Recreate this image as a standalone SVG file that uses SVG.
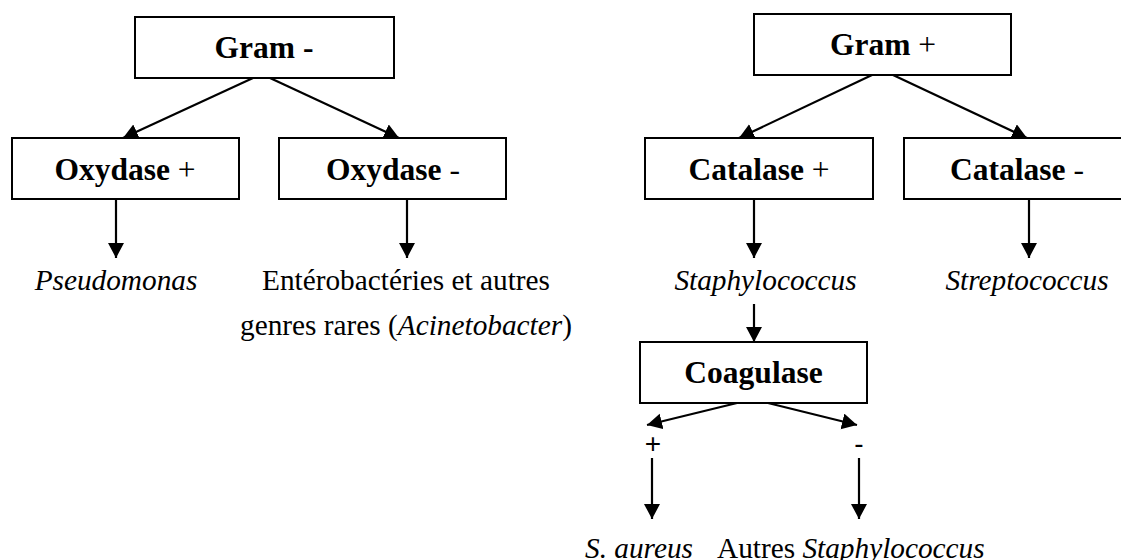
<svg xmlns="http://www.w3.org/2000/svg" width="1121" height="560" viewBox="0 0 1121 560">
<style>
.box{fill:#fff;stroke:#000;stroke-width:2}
.bt{font-family:"Liberation Serif","Times New Roman",serif;font-size:31.5px;font-weight:bold;text-anchor:middle;fill:#000}
.n{font-weight:normal}
.lb{font-family:"Liberation Serif","Times New Roman",serif;font-size:29.3px;fill:#000}
.it{font-style:italic}
.sg{font-family:"Liberation Sans",Arial,sans-serif;font-size:28px;text-anchor:middle;fill:#000}
.c{stroke:#000;stroke-width:2.2;fill:none;marker-end:url(#ah)}
</style>
<defs>
<marker id="ah" markerUnits="userSpaceOnUse" markerWidth="16" markerHeight="17" refX="15" refY="8" orient="auto">
<path d="M0,0 L15,8 L0,16 z" fill="#000"/>
</marker>
</defs>
<g id="connectors">
<line class="c" x1="253" y1="78" x2="123" y2="138"/>
<line class="c" x1="270" y1="78" x2="399" y2="138"/>
<line class="c" x1="116" y1="199" x2="116" y2="258"/>
<line class="c" x1="407" y1="199" x2="407" y2="258"/>
<line class="c" x1="872" y1="75" x2="739" y2="138"/>
<line class="c" x1="893" y1="75" x2="1027" y2="138"/>
<line class="c" x1="754" y1="199" x2="754" y2="258"/>
<line class="c" x1="1029" y1="199" x2="1029" y2="258"/>
<line class="c" x1="754" y1="304" x2="754" y2="342"/>
<line class="c" x1="737" y1="403" x2="647" y2="425"/>
<line class="c" x1="768" y1="403" x2="857" y2="425"/>
<line class="c" x1="652" y1="458" x2="652" y2="519"/>
<line class="c" x1="859" y1="458" x2="859" y2="519"/>
</g>
<g id="gram-neg">
<rect class="box" x="135" y="17" width="259" height="61"/>
<text class="bt" x="264" y="58">Gram -</text>
</g>
<g id="oxydase-pos">
<rect class="box" x="12" y="138" width="227" height="61"/>
<text class="bt" x="125" y="180">Oxydase<tspan class="n"> +</tspan></text>
</g>
<g id="oxydase-neg">
<rect class="box" x="279" y="138" width="227" height="61"/>
<text class="bt" x="393" y="180">Oxydase<tspan class="n"> -</tspan></text>
</g>
<g id="pseudomonas">
<text class="lb it" x="116" y="290" text-anchor="middle">Pseudomonas</text>
</g>
<g id="enterobacteries">
<text class="lb" x="262" y="290">Entérobactéries et autres</text>
<text class="lb" x="240" y="335">genres rares (<tspan class="it">Acinetobacter</tspan>)</text>
</g>
<g id="gram-pos">
<rect class="box" x="754" y="14" width="257" height="61"/>
<text class="bt" x="883" y="55">Gram<tspan class="n"> +</tspan></text>
</g>
<g id="catalase-pos">
<rect class="box" x="645" y="138" width="228" height="61"/>
<text class="bt" x="759" y="180">Catalase<tspan class="n"> +</tspan></text>
</g>
<g id="catalase-neg">
<rect class="box" x="904" y="138" width="240" height="61"/>
<text class="bt" x="1017" y="180">Catalase<tspan class="n"> -</tspan></text>
</g>
<g id="staphylococcus">
<text class="lb it" x="765.5" y="290" text-anchor="middle">Staphylococcus</text>
</g>
<g id="streptococcus">
<text class="lb it" x="1027" y="290" text-anchor="middle">Streptococcus</text>
</g>
<g id="coagulase">
<rect class="box" x="640" y="342" width="227" height="61"/>
<text class="bt" x="753.5" y="383">Coagulase</text>
</g>
<g id="signs">
<text class="sg" x="653" y="453">+</text>
<text class="sg" x="859" y="453">-</text>
</g>
<g id="s-aureus">
<text class="lb it" x="585" y="558">S. aureus</text>
</g>
<g id="autres-staph">
<text class="lb" x="717" y="558">Autres <tspan class="it">Staphylococcus</tspan></text>
</g>
</svg>
